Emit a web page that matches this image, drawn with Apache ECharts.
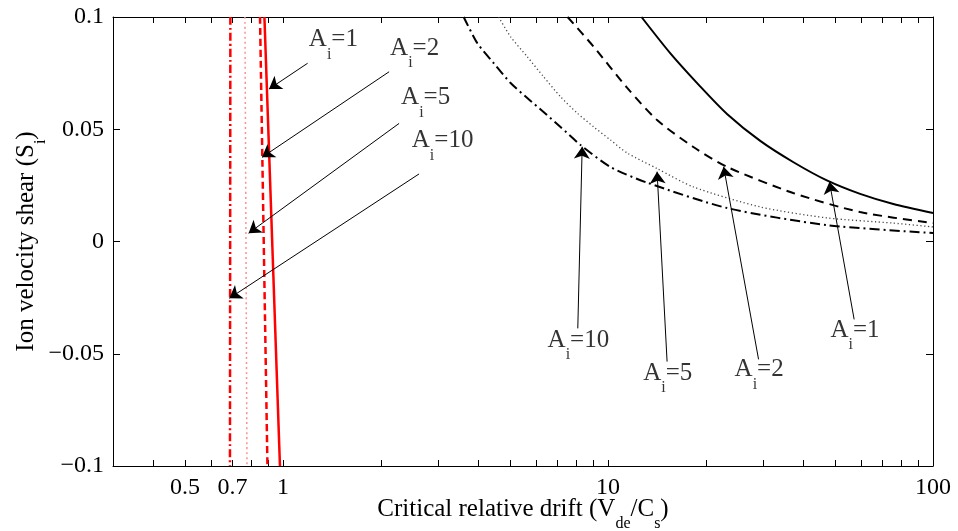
<!DOCTYPE html>
<html>
<head>
<meta charset="utf-8">
<script src="https://cdn.jsdelivr.net/npm/echarts@6/dist/echarts.min.js"></script>
<style>
  html, body { margin: 0; padding: 0; background: #ffffff; }
  #chart { width: 958px; height: 531px; }
</style>
</head>
<body>
<div id="chart"></div>
<script>
// Critical ion velocity shear S_i against critical relative drift V_de/C_s,
// for ion mass ratios A_i = 1, 2, 5, 10.

// Left branch (red), nearly vertical: [V_de/C_s, S_i]
const redA1  = [[0.877, 0.1], [0.979, -0.1]];
const redA2  = [[0.850, 0.1], [0.896, -0.1]];
const redA5  = [[0.764, 0.1], [0.775, -0.1]];
const redA10 = [[0.689, 0.1], [0.687, -0.1]];

// Right branch (black): [V_de/C_s, S_i]
const blackA1 = [[12.68, 0.1], [15.56, 0.0838], [19.24, 0.0690], [23.24, 0.0568], [29.41, 0.0448],
                 [37.22, 0.0353], [47.15, 0.0272], [59.68, 0.0212], [75.5, 0.0167], [100, 0.0127]];
const blackA2 = [[7.51, 0.1], [9.03, 0.0868], [11.46, 0.0684], [14.16, 0.0541], [18.31, 0.0421],
                 [23.28, 0.0332], [37.14, 0.0216], [59.7, 0.0131], [100, 0.0082]];
const blackA5 = [[4.61, 0.1], [5.017, 0.0912], [5.646, 0.0823], [6.336, 0.0734], [7.145, 0.0645],
                 [8.04, 0.0572], [9.03, 0.0511], [10.18, 0.0452], [11.46, 0.0394], [14.16, 0.0325],
                 [18.31, 0.0243], [29.41, 0.0154], [47.24, 0.0105], [75.4, 0.0082], [100, 0.0065]];
const blackA10 = [[3.598, 0.1], [3.965, 0.0883], [4.448, 0.0795], [5.017, 0.0706], [5.646, 0.0639],
                  [6.336, 0.0577], [7.145, 0.0510], [8.233, 0.0430], [10.18, 0.0332], [13.20, 0.0262],
                  [23.28, 0.0149], [47.24, 0.0073], [100, 0.0038]];

// Axis ticks and labels
const xTickLabels = [0.5, 0.7, 1, 10, 100];
const xTicks = [0.4, 0.5, 0.6, 0.7, 0.8, 0.9, 1, 2, 3, 4, 5, 6, 7, 8, 9, 10,
                20, 30, 40, 50, 60, 70, 80, 90, 100];

// Curve annotations: mass ratio, label anchor, arrow tail, arrow head
const noteMass   = [1, 2, 5, 10, 10, 5, 2, 1];
const noteAnchor = [[1.193, 0.0898], [2.121, 0.0862], [2.293, 0.0641], [2.474, 0.0448],
                    [6.473, -0.0439], [12.74, -0.0586], [24.35, -0.0572], [48.02, -0.0394]];
const noteTail   = [[1.191, 0.0794], [2.121, 0.0756], [2.277, 0.0526], [2.623, 0.0301],
                    [8.075, -0.0387], [15.20, -0.0535], [29.06, -0.0525], [57.2, -0.0347]];
const noteHead   = [[0.906, 0.0679], [0.862, 0.0375], [0.784, 0.0037], [0.684, -0.0253],
                    [8.33, 0.0422], [14.16, 0.0311], [22.69, 0.0333], [48.02, 0.0266]];

const FONT = 'Liberation Serif, Times New Roman, serif';
const TICK = 24;
const MAIN = 25;
const SUB = 16;
// main text with lowered subscripts
const rich = {
  a: { fontFamily: FONT, fontSize: MAIN, lineHeight: 22, color: '#000' },
  s: { fontFamily: FONT, fontSize: SUB, lineHeight: 16, padding: [30, 0, 0, 0], color: '#000' }
};

function baseAxis(extra) {
  return Object.assign({
    axisLine: { show: true, onZero: false, lineStyle: { color: '#000', width: 1 } },
    splitLine: { show: false },
    minorTick: { show: false },
    minorSplitLine: { show: false },
    nameMoveOverlap: false
  }, extra);
}

function xAxisDef(position, withLabels) {
  return baseAxis({
    type: 'log',
    logBase: 10,
    min: 0.3,
    max: 100,
    position: position,
    axisTick: { show: true, inside: true, length: 6, customValues: xTicks,
                lineStyle: { color: '#000', width: 1 } },
    axisLabel: { show: withLabels, customValues: xTickLabels, margin: 10,
                 fontFamily: FONT, fontSize: TICK, color: '#000',
                 formatter: v => String(+v.toPrecision(6)) },
    name: withLabels ? '{a|Critical relative drift (V}{s|de}{a|/C}{s|s}{a|)}' : '',
    nameLocation: 'middle',
    nameGap: 32,
    nameTextStyle: { rich: rich }
  });
}

function yAxisDef(position, withLabels) {
  return baseAxis({
    type: 'value',
    min: -0.1,
    max: 0.1,
    interval: 0.05,
    position: position,
    axisTick: { show: true, inside: true, length: 7, lineStyle: { color: '#000', width: 1 } },
    axisLabel: { show: withLabels, margin: 9, fontFamily: FONT, fontSize: TICK, color: '#000',
                 formatter: v => String(+v.toFixed(3)).replace('-', '\u2212') },
    name: withLabels ? '{a|Ion velocity shear (S}{s|i}{a|)}' : '',
    nameLocation: 'middle',
    nameRotate: 90,
    nameGap: 76,
    nameTextStyle: { rich: rich }
  });
}

function curve(name, data, color, width, type) {
  return {
    name: name,
    type: 'line',
    data: data,
    showSymbol: false,
    symbol: 'none',
    smooth: 0.25,
    clip: true,
    lineStyle: { color: color, width: width, type: type },
    z: 3
  };
}

const noteData = noteMass.map((m, i) => ({
  value: noteAnchor[i],
  label: { formatter: '{a|A}{s|i}{a|=' + m + '}' }
}));

const arrowData = noteMass.map((m, i) => [
  { coord: noteTail[i] },
  { coord: noteHead[i] }
]);

const option = {
  animation: false,
  backgroundColor: '#ffffff',
  grid: { left: 113, right: 25, top: 17, bottom: 65, containLabel: false, outerBoundsMode: 'none' },
  xAxis: [xAxisDef('bottom', true), xAxisDef('top', false)],
  yAxis: [yAxisDef('left', true), yAxisDef('right', false)],
  series: [
    curve('A_i=1 (left)', redA1, '#ff0000', 2.5, 'solid'),
    curve('A_i=2 (left)', redA2, '#ff0000', 2.5, [7, 4]),
    curve('A_i=5 (left)', redA5, '#ff8f8f', 1.5, [2, 3]),
    curve('A_i=10 (left)', redA10, '#ff0000', 2.5, [8, 3, 2, 3]),
    curve('A_i=1', blackA1, '#000000', 2, 'solid'),
    curve('A_i=2', blackA2, '#000000', 2, [9, 6]),
    curve('A_i=5', blackA5, '#444444', 1.3, [1.2, 2.6]),
    curve('A_i=10', blackA10, '#000000', 2, [10, 4, 2, 4]),
    {
      name: 'notes',
      type: 'scatter',
      data: noteData,
      symbol: 'circle',
      symbolSize: 2,
      itemStyle: { color: 'rgba(0,0,0,0)' },
      silent: true,
      z: 5,
      label: {
        show: true,
        position: 'right',
        distance: 0,
        color: '#000',
        rich: rich
      },
      markLine: {
        silent: true,
        animation: false,
        symbol: ['none', 'arrow'],
        symbolSize: 12,
        label: { show: false },
        lineStyle: { color: '#000', width: 1, type: 'solid' },
        itemStyle: { color: '#000' },
        emphasis: { disabled: true },
        data: arrowData
      }
    }
  ]
};

const chart = echarts.init(document.getElementById('chart'), null, { renderer: 'canvas' });
chart.setOption(option);
</script>
</body>
</html>
